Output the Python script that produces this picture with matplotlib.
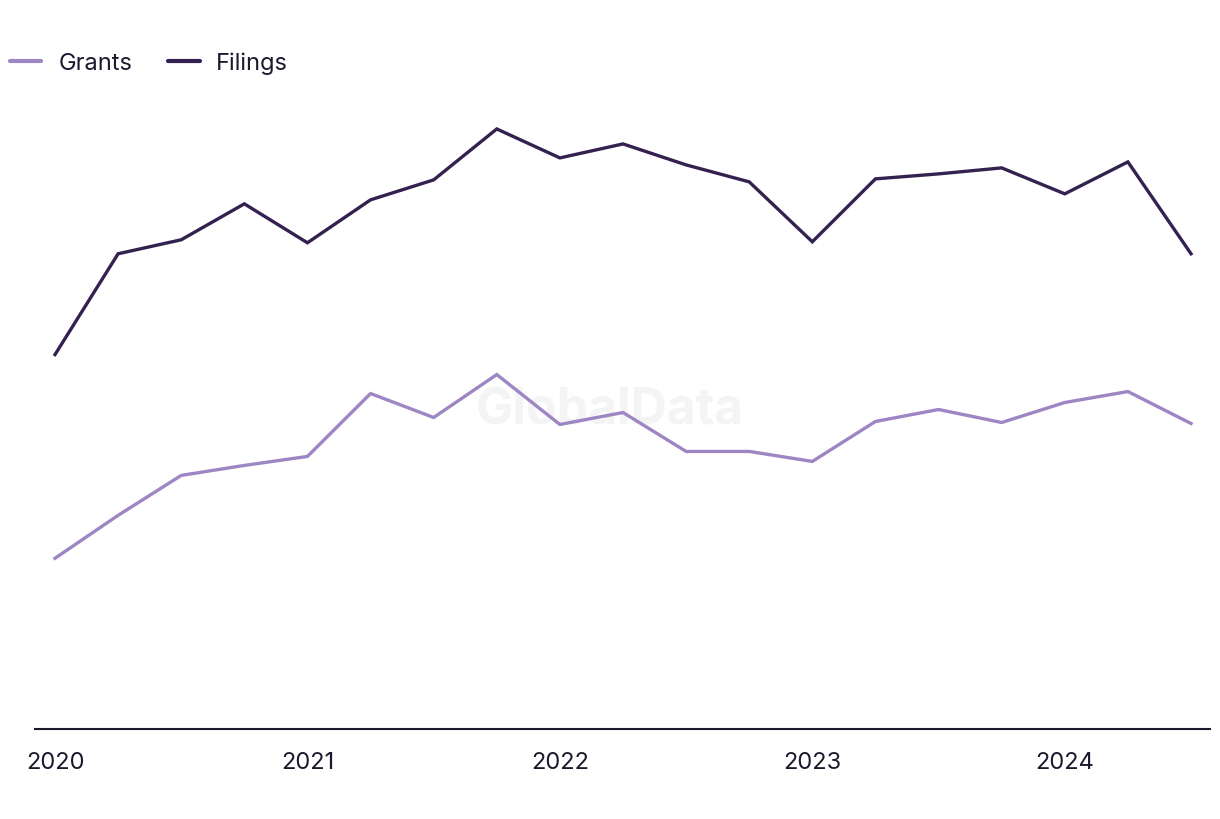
import matplotlib
matplotlib.use("Agg")
import matplotlib.pyplot as plt
from matplotlib.lines import Line2D

quarters = list(range(19))
year_ticks = [0, 4, 8, 12, 16]
year_labels = ["2020", "2021", "2022", "2023", "2024"]
filings = [375, 476, 490, 526, 487, 530, 550, 601, 572, 586, 565, 548, 488, 551, 556, 562, 536, 568, 476]
grants = [171, 214, 254, 264, 273, 336, 312, 355, 305, 317, 278, 278, 268, 308, 320, 307, 327, 338, 306]
series_names = ["Grants", "Filings"]

plt.rcParams['font.family'] = ['Inter', 'DejaVu Sans']

W, H = 1220, 820
fig = plt.figure(figsize=(W/100, H/100), dpi=100)
ax = fig.add_axes([35/W, (H-730)/H, (1210-35)/W, (730-100)/H])

step = (1191-55)/18
ax.set_xlim((35-55)/step, (1210-55)/step)
ax.set_ylim(0, 631)

ax.text(610/W, 1-411/H, "GlobalData", fontsize=36, fontweight='bold', color='#f4f4f4',
        ha='center', va='center', zorder=1, transform=fig.transFigure)

c_grants = '#9d86c3'
c_filings = '#35214f'
ax.plot(quarters, grants, color=c_grants, lw=2.4, solid_joinstyle='miter', zorder=3)
ax.plot(quarters, filings, color=c_filings, lw=2.4, solid_joinstyle='miter', zorder=3)

for s in ['top', 'right', 'left']:
    ax.spines[s].set_visible(False)
ax.spines['bottom'].set_color('#1a1a2e')
ax.spines['bottom'].set_linewidth(1.5)
ax.set_yticks([])
ax.set_xticks(year_ticks)
ax.set_xticklabels(year_labels, fontsize=17, color='#1a1a2e')
ax.tick_params(axis='x', length=0, pad=16)
ax.patch.set_alpha(0)

# manual legend
ly = 1 - 62/H
for (x0, x1, tx), name, col in zip([(10, 41, 59), (168, 200, 216)], series_names, [c_grants, c_filings]):
    fig.add_artist(Line2D([x0/W, x1/W], [ly, ly], color=col, lw=3, solid_capstyle='round',
                          transform=fig.transFigure))
    fig.text(tx/W, ly - 2/H, name, fontsize=17, color='#1a1a2e', ha='left', va='center')

fig.savefig("out.png", dpi=100, facecolor='white')
